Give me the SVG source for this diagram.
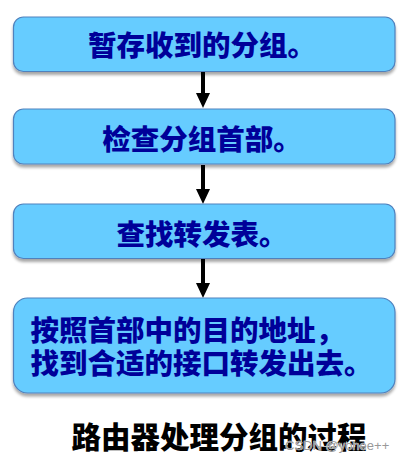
<svg xmlns="http://www.w3.org/2000/svg" width="406" height="463" viewBox="0 0 406 463">
<style>
.box{fill:#66ccff;stroke:#4f81bd;stroke-width:1.2}
.t{font-family:"Noto Sans CJK SC","Noto Sans",sans-serif;font-weight:900;font-size:28.5px;fill:#000099}
.title{font-family:"Noto Sans CJK SC","Noto Sans",sans-serif;font-weight:900;font-size:29.5px;fill:#000}
.ln{stroke:#000;stroke-width:4}
</style>
<defs>
<filter id="sh" x="-5%" y="-10%" width="110%" height="130%">
<feGaussianBlur in="SourceAlpha" stdDeviation="1.5"/>
<feOffset dx="0" dy="2.5"/>
<feComponentTransfer><feFuncA type="linear" slope="0.35"/></feComponentTransfer>
<feMerge><feMergeNode/><feMergeNode in="SourceGraphic"/></feMerge>
</filter>
</defs>
<rect width="406" height="463" fill="#fff"/>
<g id="connectors">
<line class="ln" x1="203" y1="72" x2="203" y2="94"/><path d="M196 93 L210 93 L203 108 Z"/>
<line class="ln" x1="203" y1="165" x2="203" y2="190"/><path d="M196 189 L210 189 L203 204 Z"/>
<line class="ln" x1="203" y1="259" x2="203" y2="284"/><path d="M196 283 L210 283 L203 298 Z"/>
</g>
<g id="n1"><rect class="box" filter="url(#sh)" x="13.5" y="17" width="381.5" height="54.5" rx="10"/><text class="t" x="202" y="56" text-anchor="middle">暂存收到的分组。</text></g>
<g id="n2"><rect class="box" filter="url(#sh)" x="13.5" y="109" width="381.5" height="55" rx="10"/><text class="t" x="202" y="149.5" text-anchor="middle">检查分组首部。</text></g>
<g id="n3"><rect class="box" filter="url(#sh)" x="13.5" y="204" width="381.5" height="54.5" rx="10"/><text class="t" x="202" y="244.5" text-anchor="middle">查找转发表。</text></g>
<g id="n4"><rect class="box" filter="url(#sh)" x="13.5" y="298" width="381.5" height="95" rx="14"/><text class="t" x="30.5" y="340.5">按照首部中的目的地址，</text><text class="t" x="30.5" y="373.5">找到合适的接口转发出去。</text></g>
<g id="caption"><text class="title" x="71.5" y="447.5">路由器处理分组的过程</text>
<text x="285" y="450" font-family="Liberation Sans,Arial,sans-serif" font-size="13" fill="#999" stroke="#fff" stroke-width="0.6" paint-order="stroke">CSDN @yohee++</text></g>
</svg>
